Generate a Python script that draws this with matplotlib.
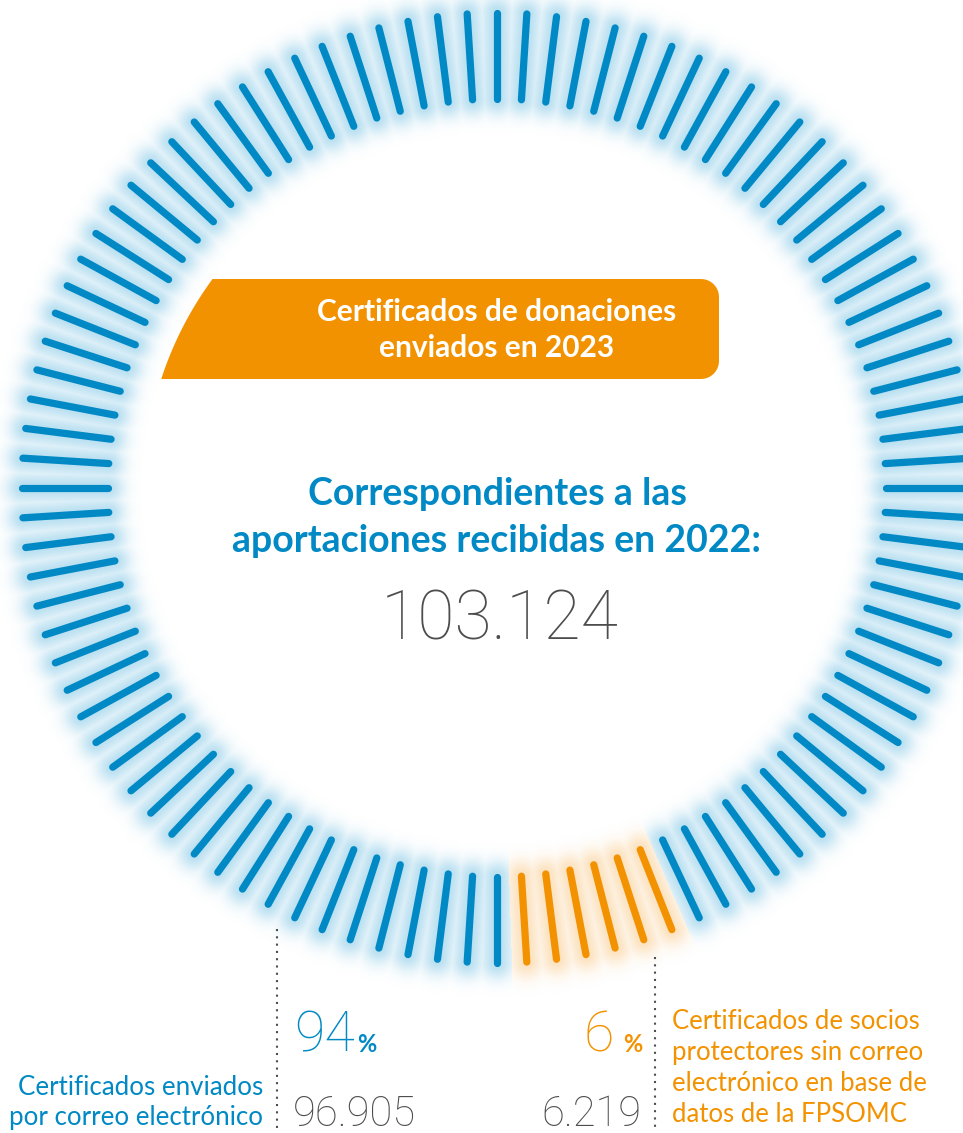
import numpy as np
import matplotlib
matplotlib.use("Agg")
import matplotlib.pyplot as plt
from matplotlib.patches import Polygon

# data
n_ticks = 100
share_labels = ["Certificados enviados\npor correo electrónico",
                "Certificados de socios\nprotectores sin correo\nelectrónico en base de\ndatos de la FPSOMC"]
share_pct = [94, 6]
share_count = ["96.905", "6.219"]
total_label = "103.124"
box_title = ["Certificados de donaciones", "enviados en 2023"]
center_title = ["Correspondientes a las", "aportaciones recibidas en 2022:"]

BLUE = "#0089c4"
ORANGE = "#f39200"
GRAY = "#4d4d4d"
W, H = 963, 1133
cx, cy = 497, 488
r_in, r_out = 389, 475
NUM_FONT = ['Roboto', 'DejaVu Sans']

plt.rcParams['font.family'] = ['Lato', 'DejaVu Sans']

fig = plt.figure(figsize=(W / 100, H / 100), dpi=100)
ax = fig.add_axes([0, 0, 1, 1])
ax.set_xlim(0, W)
ax.set_ylim(H, 0)
ax.axis('off')

# tick angles, starting at the bottom, going towards the right
thetas = np.deg2rad(-90 + 360.0 / n_ticks * np.arange(n_ticks))
n_orange = int(round(n_ticks * share_pct[1] / 100))
is_orange = np.zeros(n_ticks, bool)
is_orange[1:1 + n_orange] = True

# glow: distance to nearest tick
yy, xx = np.mgrid[0:H, 0:W] + 0.5
dx = xx - cx
dy = yy - cy
dmin = np.full(dx.shape, np.inf)
near_orange = np.zeros(dx.shape, bool)
for k, th in enumerate(thetas):
    ux, uy = np.cos(th), -np.sin(th)
    t = np.clip(dx * ux + dy * uy, r_in, r_out)
    d = np.hypot(dx - t * ux, dy - t * uy)
    closer = d < dmin
    dmin[closer] = d[closer]
    near_orange[closer] = is_orange[k]

alpha = 0.4 * np.exp(-(dmin / 16.0) ** 2)
img = np.zeros((H, W, 4))
blue_rgb = np.array(matplotlib.colors.to_rgb("#4aaedb"))
orange_rgb = np.array(matplotlib.colors.to_rgb("#f8b55a"))
img[..., :3] = np.where(near_orange[..., None], orange_rgb, blue_rgb)
img[..., 3] = alpha
ax.imshow(img, extent=(0, W, H, 0), interpolation='bilinear', zorder=1)

for k, th in enumerate(thetas):
    ux, uy = np.cos(th), -np.sin(th)
    ax.plot([cx + r_in * ux, cx + r_out * ux], [cy + r_in * uy, cy + r_out * uy],
            color=ORANGE if is_orange[k] else BLUE, lw=5.2,
            solid_capstyle='round', zorder=2)

# orange banner with arc on the left
R_box = 353
top, bot, right, rc = 279, 379, 719, 18
ys = np.linspace(bot, top, 30)
arc_left = np.column_stack([cx - np.sqrt(R_box ** 2 - (ys - cy) ** 2), ys])
a = np.linspace(-np.pi / 2, 0, 12)
c_tr = np.column_stack([right - rc + rc * np.cos(a), top + rc + rc * np.sin(a)])
a = np.linspace(0, np.pi / 2, 12)
c_br = np.column_stack([right - rc + rc * np.cos(a), bot - rc + rc * np.sin(a)])
verts = np.vstack([arc_left, c_tr, c_br])
ax.add_patch(Polygon(verts, closed=True, facecolor=ORANGE, edgecolor='none', zorder=3))

ax.text(497, 321, box_title[0], color='white', fontsize=21.5, fontweight='bold',
        ha='center', va='baseline', zorder=4)
ax.text(497, 357, box_title[1], color='white', fontsize=21.5, fontweight='bold',
        ha='center', va='baseline', zorder=4)

ax.text(497, 505, center_title[0], color=BLUE, fontsize=27, fontweight='bold',
        ha='center', va='baseline', zorder=4)
ax.text(497, 552, center_title[1], color=BLUE, fontsize=27, fontweight='bold',
        ha='center', va='baseline', zorder=4)
ax.text(500, 640, total_label, color=GRAY, fontsize=49, fontweight='light',
        family=NUM_FONT, ha='center', va='baseline', zorder=4)

# dotted separators
ax.plot([277, 277], [929, 1130], color=GRAY, lw=1.5, ls=(0, (1, 2.5)), zorder=2)
ax.plot([655, 655], [957, 1130], color=GRAY, lw=1.5, ls=(0, (1, 2.5)), zorder=2)

# left block
ax.text(294, 1052, str(share_pct[0]), color=BLUE, fontsize=40, fontweight='light',
        family=NUM_FONT, ha='left', va='baseline')
ax.text(357, 1052, "%", color=BLUE, fontsize=17, fontweight='bold',
        ha='left', va='baseline')
ax.text(293, 1126, share_count[0], color=GRAY, fontsize=30, fontweight='light',
        family=NUM_FONT, ha='left', va='baseline')
for i, line in enumerate(share_labels[0].split("\n")):
    ax.text(263, 1095 + 30 * i, line, color=BLUE, fontsize=18.6,
            ha='right', va='baseline')

# right block
ax.text(642, 1052, "%", color=ORANGE, fontsize=17, fontweight='bold',
        ha='right', va='baseline')
ax.text(614, 1052, str(share_pct[1]), color=ORANGE, fontsize=40, fontweight='light',
        family=NUM_FONT, ha='right', va='baseline')
ax.text(641, 1126, share_count[1], color=GRAY, fontsize=30, fontweight='light',
        family=NUM_FONT, ha='right', va='baseline')
for i, line in enumerate(share_labels[1].split("\n")):
    ax.text(672, 1029 + 31 * i, line, color=ORANGE, fontsize=18.5,
            ha='left', va='baseline')

fig.savefig("out.png", dpi=100)
